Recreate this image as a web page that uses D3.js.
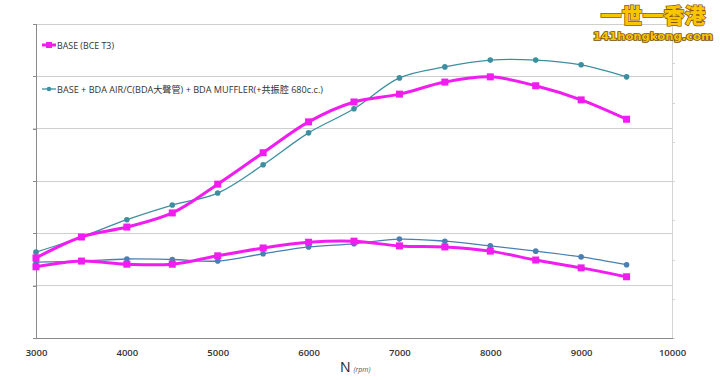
<!DOCTYPE html>
<html><head><meta charset="utf-8">
<script src="https://cdn.jsdelivr.net/npm/d3@7"></script>
<style>
html,body{margin:0;padding:0;background:#fff;}
svg{display:block;font-family:"Open Sans","Noto Sans CJK TC",sans-serif;}
</style></head>
<body>
<svg id="c" width="720" height="380"></svg>
<script>
const rpm = [3000,3500,4000,4500,5000,5500,6000,6500,7000,7500,8000,8500,9000,9500];
const basePower  = [15.3,19.3,21.2,23.9,29.4,35.4,41.3,45.1,46.6,48.9,49.9,48.2,45.5,41.8];
const bdaPower   = [16.4,19.3,22.6,25.4,27.7,33.1,39.2,43.8,49.7,51.8,53.1,53.1,52.2,49.9];
const baseTorque = [13.6,14.7,14.1,14.1,15.7,17.2,18.3,18.5,17.6,17.4,16.6,14.9,13.4,11.7];
const bdaTorque  = [14.5,14.7,15.1,15.0,14.7,16.1,17.4,18.0,18.9,18.5,17.6,16.6,15.5,14.0];
const xTicks = [3000,4000,5000,6000,7000,8000,9000,10000];
const legendLabels = ["BASE (BCE T3)", "BASE + BDA AIR/C(BDA大聲管) + BDA MUFFLER(+共振腔 680c.c.)"];
const xTitle = "N";
const xUnit = "(rpm)";

const svg = d3.select("#c");
const L = 36, R = 672, T = 24, B = 338;
const x = d3.scaleLinear().domain([3000,10000]).range([L,R]);
const y = d3.scaleLinear().domain([0,60]).range([B,T]);
const y2 = d3.scaleLinear().domain([0,8]).range([B,T]);

// gridlines
svg.append("g").selectAll("line").data(d3.range(10,61,10)).join("line")
  .attr("x1",L-3).attr("x2",R).attr("y1",d=>y(d)).attr("y2",d=>y(d))
  .attr("stroke","#cfcfcf").attr("stroke-width",1).attr("shape-rendering","crispEdges");

// left axis
svg.append("g").attr("transform",`translate(${L},0)`)
  .call(d3.axisLeft(y).tickValues(d3.range(0,61,10)).tickSize(3).tickFormat(""))
  .call(g=>g.selectAll("line,path").attr("stroke","#8a8a8a").attr("shape-rendering","crispEdges"));

// right axis
svg.append("g").attr("transform",`translate(${R},0)`)
  .call(d3.axisRight(y2).tickValues(d3.range(0,9,1)).tickSize(3).tickFormat(""))
  .call(g=>g.selectAll("line,path").attr("stroke","#d4d4d4").attr("shape-rendering","crispEdges"));

// bottom axis
const xa = svg.append("g").attr("transform",`translate(0,${B})`)
  .call(d3.axisBottom(x).tickValues(xTicks).tickSize(0).tickPadding(11).tickFormat(d3.format("d")));
xa.select("path").attr("stroke","#8a8a8a").attr("shape-rendering","crispEdges");
xa.selectAll("text").attr("font-size",9.5).attr("font-weight",600).attr("fill","#333")
  .attr("font-family","'Open Sans',sans-serif");

// x title
const tt = svg.append("text").attr("x",340).attr("y",372).attr("fill","#222");
tt.append("tspan").attr("font-size",14).text(xTitle);
tt.append("tspan").attr("dx",3).attr("font-size",7).attr("font-style","italic").attr("fill","#555").text(xUnit);

const line = d3.line().x((d,i)=>x(rpm[i])).y(d=>y(d)).curve(d3.curveCatmullRom.alpha(0.5));

const MAG = "#f01cf0", TEAL = "#3d8fa0", BLUE = "#4a7fb2";

function series(vals, color, width, marker){
  svg.append("path").datum(vals).attr("d",line).attr("fill","none")
    .attr("stroke",color).attr("stroke-width",width);
  const g = svg.append("g");
  if(marker==="sq"){
    g.selectAll("rect").data(vals).join("rect")
      .attr("x",(d,i)=>x(rpm[i])-3.5).attr("y",d=>y(d)-3.5)
      .attr("width",7).attr("height",7).attr("fill",color);
  } else {
    g.selectAll("circle").data(vals).join("circle")
      .attr("cx",(d,i)=>x(rpm[i])).attr("cy",d=>y(d)).attr("r",2.8).attr("fill",color);
  }
}
series(bdaTorque, BLUE, 1.3, "c");
series(bdaPower, TEAL, 1.3, "c");
series(baseTorque, MAG, 3, "sq");
series(basePower, MAG, 3, "sq");

// legend
const leg = svg.append("g");
[[45,MAG,3,"sq",57],[89,TEAL,1.3,"c",266]].forEach((e,i)=>{
  const [ly,c,w,m,tl] = e;
  leg.append("line").attr("x1",42).attr("x2",56).attr("y1",ly).attr("y2",ly).attr("stroke",c).attr("stroke-width",w);
  if(m==="sq") leg.append("rect").attr("x",46).attr("y",ly-3).attr("width",6).attr("height",6).attr("fill",c);
  else leg.append("circle").attr("cx",49).attr("cy",ly).attr("r",2.3).attr("fill",c);
  leg.append("text").attr("x",57).attr("y",ly+3.5).attr("font-size",9.5).attr("fill","#333")
    .attr("font-family","'Open Sans','Noto Sans CJK TC',sans-serif")
    .attr("textLength",tl).attr("lengthAdjust","spacingAndGlyphs").text(legendLabels[i]);
});

// watermark
const wm = svg.append("g");
wm.append("text").attr("x",653).attr("y",23).attr("text-anchor","middle")
  .attr("font-size",21).attr("font-weight",900).attr("font-family","'Noto Sans CJK TC',sans-serif")
  .attr("fill","#f7c600").attr("stroke","#8a5200").attr("stroke-width",1.4).attr("paint-order","stroke")
  .text("一世一香港");
wm.append("text").attr("x",653).attr("y",40).attr("text-anchor","middle")
  .attr("font-size",11).attr("font-weight",900).attr("font-family","'DejaVu Sans',sans-serif")
  .attr("fill","#f7c600").attr("stroke","#7a4a00").attr("stroke-width",1.6).attr("paint-order","stroke")
  .attr("textLength",120).attr("lengthAdjust","spacingAndGlyphs")
  .text("141hongkong.com");
</script>
</body></html>
